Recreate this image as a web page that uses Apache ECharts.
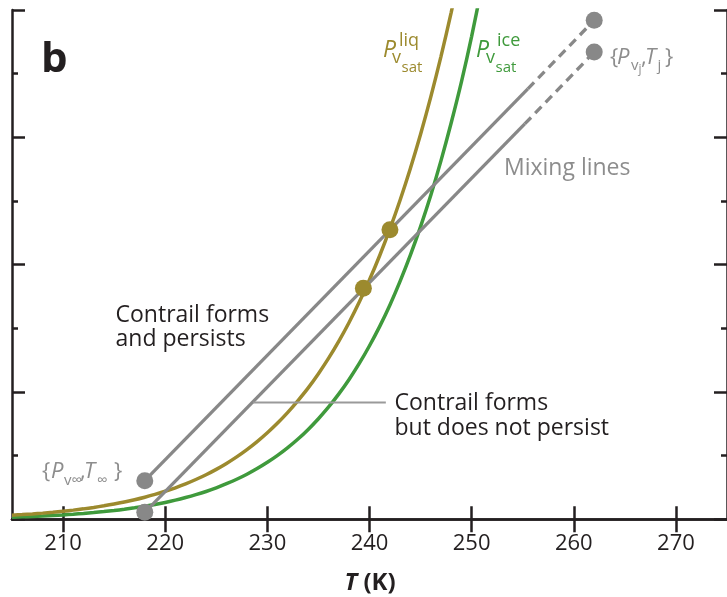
<!DOCTYPE html>
<html>
<head>
<meta charset="utf-8">
<script src="https://cdn.jsdelivr.net/npm/echarts@6/dist/echarts.min.js"></script>
<style>
html,body{margin:0;padding:0;background:#fff;}
#chart{width:727px;height:597px;}
</style>
</head>
<body>
<div id="chart"></div>
<script>
// ---- data ----
const xTickValues = [210, 220, 230, 240, 250, 260, 270];
const tempsLiq = [205,206,207,208,209,210,211,212,213,214,215,216,217,218,219,220,221,222,223,224,225,226,227,228,229,230,231,232,233,234,235,236,237,238,239,240,241,242,243,244,245,246,247,248,249];
const pLiq = [0.65,0.74,0.85,0.97,1.11,1.27,1.44,1.64,1.87,2.12,2.40,2.72,3.07,3.47,3.91,4.40,4.95,5.56,6.25,7.00,7.84,8.77,9.80,10.94,12.20,13.59,15.12,16.80,18.65,20.64,22.87,25.31,27.99,30.92,34.12,37.62,41.44,45.61,50.16,55.11,60.49,66.35,72.72,79.63,87.13];
const tempsIce = [205,206,207,208,209,210,211,212,213,214,215,216,217,218,219,220,221,222,223,224,225,226,227,228,229,230,231,232,233,234,235,236,237,238,239,240,241,242,243,244,245,246,247,248,249,250,251,252];
const pIce = [0.333,0.387,0.449,0.520,0.601,0.694,0.799,0.919,1.055,1.21,1.38,1.58,1.80,2.05,2.33,2.65,3.01,3.42,3.87,4.37,4.94,5.59,6.29,7.08,7.97,8.95,10.04,11.26,12.61,14.12,15.80,17.65,19.70,21.97,24.48,27.26,30.30,33.67,37.42,41.50,45.98,50.89,56.34,62.28,68.70,75.87,83.79,92.35];
const mixUpperSolid = [[218, 6.06], [255.5, 67.6]];
const mixUpperDash  = [[255.5, 67.6], [262, 78.4]];
const mixLowerSolid = [[218, 1.1], [255.2, 62.1]];
const mixLowerDash  = [[255.2, 62.1], [262, 73.4]];
const grayPoints = [[218, 6.06], [218, 1.1], [262, 78.4], [262, 73.4]];
const goldPoints = [[242.0, 45.5], [239.4, 36.3]];
const pointerLine = [[228.6, 18.35], [241.6, 18.35]];

// ---- styles ----
const GOLD = '#9c8a2e', GREEN = '#3f9a3c', GRAY = '#888888', LGRAY = '#9a9a9a', INK = '#231f20', TGRAY = '#8d8d8d';
const FONT = '"Open Sans", "DejaVu Sans", sans-serif';

function lbl(x, baseline, text, size, color, o) {
  o = o || {};
  return {
    type: 'text', x: x, y: baseline - 0.285 * size, z: 100, silent: true,
    style: {
      text: text, fontSize: size, fontFamily: FONT,
      fontStyle: o.italic ? 'italic' : 'normal',
      fontWeight: o.bold ? 'bold' : 'normal',
      fill: color, align: o.align || 'left', verticalAlign: 'middle'
    }
  };
}

const graphics = [
  lbl(41, 72, 'b', 42, INK, {bold: true}),
  lbl(115.5, 321.7, 'Contrail forms', 23, INK),
  lbl(115.5, 345.7, 'and persists', 23, INK),
  lbl(394.5, 410, 'Contrail forms', 23, INK),
  lbl(394.5, 435, 'but does not persist', 23, INK),
  lbl(504, 175, 'Mixing lines', 23, TGRAY),
  // P liq
  lbl(383, 57, 'P', 23, GOLD, {italic: true}),
  lbl(399, 46.5, 'liq', 18, GOLD),
  lbl(392, 63, 'v', 18, GOLD),
  lbl(401.5, 72, 'sat', 15, GOLD),
  // P ice
  lbl(476, 57, 'P', 23, GREEN, {italic: true}),
  lbl(497, 46.5, 'ice', 18, GREEN),
  lbl(486, 63, 'v', 18, GREEN),
  lbl(495.5, 72, 'sat', 15, GREEN),
  // {P_vj, T_j}
  lbl(610, 64, '{', 22, TGRAY),
  lbl(617, 64, 'P', 22, TGRAY, {italic: true}),
  lbl(631, 70, 'v', 15, TGRAY),
  lbl(638.5, 73, 'j', 12, TGRAY),
  lbl(641, 64, ',', 22, TGRAY),
  lbl(645, 64, 'T', 22, TGRAY, {italic: true}),
  lbl(657.5, 70, 'j', 15, TGRAY),
  lbl(665, 64, '}', 22, TGRAY),
  // {P_v∞, T_∞}
  lbl(42, 478, '{', 22, TGRAY),
  lbl(51, 478, 'P', 22, TGRAY, {italic: true}),
  lbl(64, 485, 'v\u221e', 15, TGRAY),
  lbl(80, 478, ',', 22, TGRAY),
  lbl(84, 478, 'T', 22, TGRAY, {italic: true}),
  lbl(97, 485, '\u221e', 15, TGRAY),
  lbl(114, 478, '}', 22, TGRAY),
  // axis title
  {
    type: 'text', x: 370, y: 590 - 0.285 * 24, z: 100, silent: true,
    style: {
      text: '{a|T} {b|(K)}', fontSize: 24, fontFamily: FONT, fill: INK,
      align: 'center', verticalAlign: 'middle',
      rich: {
        a: {fontSize: 24, fontFamily: FONT, fontStyle: 'italic', fontWeight: 'bold', fill: INK},
        b: {fontSize: 24, fontFamily: FONT, fontWeight: 'bold', fill: INK}
      }
    }
  }
];

const axisLine = {show: true, lineStyle: {color: INK, width: 2.5}};
const tick = {show: true, inside: true, length: 13, lineStyle: {color: INK, width: 2.5}};

const chart = echarts.init(document.getElementById('chart'), null, {renderer: 'canvas'});
chart.setOption({
  backgroundColor: '#ffffff',
  animation: false,
  grid: {left: 12, top: 10, width: 717.5, height: 509.3, containLabel: false},
  xAxis: [
    {
      type: 'value', position: 'bottom', min: 205, max: 275,
      axisLine: axisLine,
      axisTick: Object.assign({}, tick, {customValues: xTickValues}),
      axisLabel: {show: true, customValues: xTickValues, margin: 13, fontSize: 22, fontFamily: FONT, color: INK},
      splitLine: {show: false}
    },
    {
      type: 'value', position: 'top', min: 205, max: 275,
      axisLine: axisLine,
      axisTick: Object.assign({}, tick, {customValues: xTickValues}),
      axisLabel: {show: false},
      splitLine: {show: false}
    }
  ],
  yAxis: [
    {
      type: 'value', position: 'left', min: 0, max: 80, interval: 20,
      axisLine: axisLine, axisTick: tick,
      minorTick: {show: true, splitNumber: 2, length: 6, lineStyle: {color: INK, width: 2.5}},
      axisLabel: {show: false}, splitLine: {show: false}, minorSplitLine: {show: false}
    },
    {
      type: 'value', position: 'right', min: 0, max: 80, interval: 20,
      axisLine: axisLine, axisTick: tick,
      minorTick: {show: true, splitNumber: 2, length: 6, lineStyle: {color: INK, width: 2.5}},
      axisLabel: {show: false}, splitLine: {show: false}, minorSplitLine: {show: false}
    }
  ],
  series: [
    {type: 'line', name: 'ice', data: tempsIce.map((t, i) => [t, pIce[i]]), showSymbol: false, smooth: 0.3, z: 2,
     lineStyle: {color: GREEN, width: 3.5}, clip: true},
    {type: 'line', name: 'liq', data: tempsLiq.map((t, i) => [t, pLiq[i]]), showSymbol: false, smooth: 0.3, z: 2,
     lineStyle: {color: GOLD, width: 3.5}, clip: true},
    {type: 'line', data: mixUpperSolid, showSymbol: false, z: 3, lineStyle: {color: GRAY, width: 3.3}},
    {type: 'line', data: mixUpperDash, showSymbol: false, z: 3, lineStyle: {color: GRAY, width: 3.3, type: [9, 6]}},
    {type: 'line', data: mixLowerSolid, showSymbol: false, z: 3, lineStyle: {color: GRAY, width: 3.3}},
    {type: 'line', data: mixLowerDash, showSymbol: false, z: 3, lineStyle: {color: GRAY, width: 3.3, type: [9, 6]}},
    {type: 'line', data: pointerLine, showSymbol: false, z: 3, lineStyle: {color: LGRAY, width: 2}},
    {type: 'scatter', data: grayPoints, symbolSize: 17, z: 5, itemStyle: {color: GRAY, opacity: 1}},
    {type: 'scatter', data: goldPoints, symbolSize: 17, z: 5, itemStyle: {color: GOLD, opacity: 1}}
  ],
  graphic: graphics
});
</script>
</body>
</html>
